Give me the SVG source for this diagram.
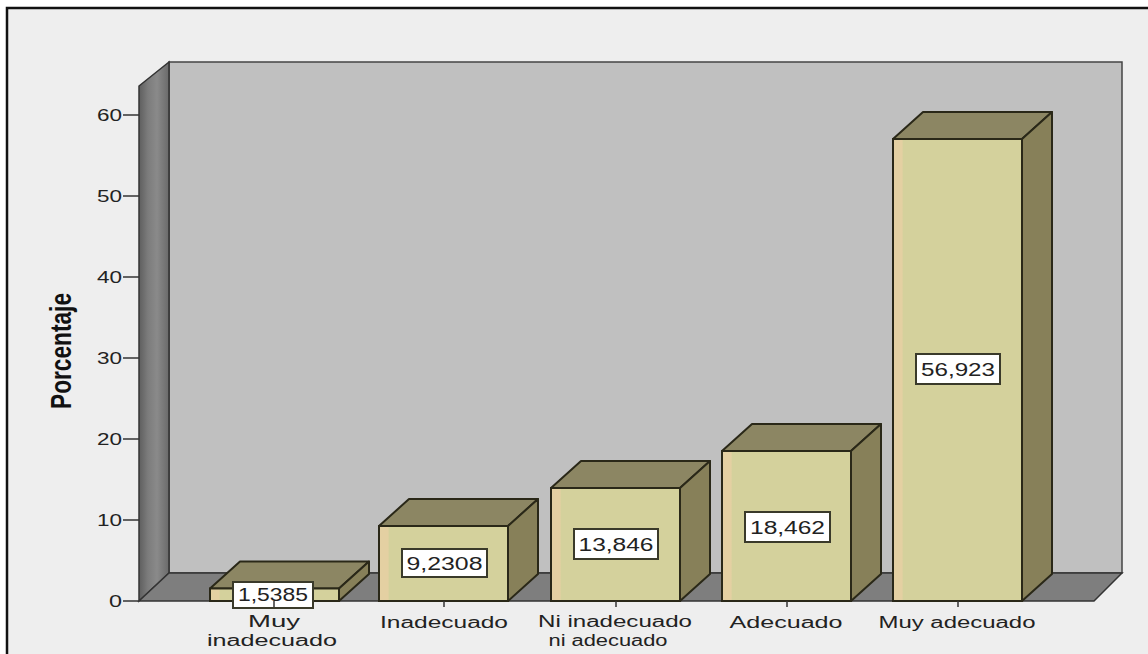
<svg xmlns="http://www.w3.org/2000/svg" width="1148" height="654" viewBox="0 0 1148 654">
<defs>
<linearGradient id="sideWall" x1="0" y1="0" x2="1" y2="0">
<stop offset="0" stop-color="#5e5e5e"/>
<stop offset="0.3" stop-color="#7c7c7c"/>
<stop offset="0.6" stop-color="#8a8a8a"/>
<stop offset="1" stop-color="#6a6a6a"/>
</linearGradient>
<linearGradient id="front" x1="0" y1="0" x2="1" y2="0">
<stop offset="0" stop-color="#e4d0a2"/>
<stop offset="0.07" stop-color="#e4d0a2"/>
<stop offset="0.08" stop-color="#d4d19c"/>
<stop offset="1" stop-color="#d4d19c"/>
</linearGradient>
<style>
.t{font-family:"Liberation Sans",Arial,sans-serif;font-size:17px;fill:#222}
.tick{stroke:#333;stroke-width:1.5}
.fr{fill:url(#front);stroke:#2a2818;stroke-width:2}
.tp{fill:#8c8663;stroke:#2a2818;stroke-width:2;stroke-linejoin:round}
.sd{fill:#878059;stroke:#2a2818;stroke-width:2;stroke-linejoin:round}
.lb{fill:#ffffff;stroke:#3a3a2a;stroke-width:2}
.v{font-family:"Liberation Sans",Arial,sans-serif;font-size:18px;fill:#222;text-anchor:middle}
.c{font-family:"Liberation Sans",Arial,sans-serif;font-size:16px;fill:#222;text-anchor:middle}
</style>
</defs>
<rect x="0" y="0" width="1148" height="654" fill="#ffffff"/>
<rect x="7" y="8" width="1160" height="660" fill="#eeeeee" stroke="#111" stroke-width="2.5"/>

<g id="chart-frame">
<rect x="169" y="62" width="953" height="511" fill="#c0c0c0" stroke="#444" stroke-width="1.5"/>
<polygon points="139,86 169,62 169,573 139,601" fill="url(#sideWall)" stroke="#333" stroke-width="1.5"/>
<polygon points="139,601 169,573 1122,573 1094,601" fill="#7e7e7e" stroke="#333" stroke-width="1.5"/>
</g>

<g id="y-axis">
<line class="tick" x1="123" y1="115" x2="139" y2="115"/>
<line class="tick" x1="123" y1="196" x2="139" y2="196"/>
<line class="tick" x1="123" y1="277" x2="139" y2="277"/>
<line class="tick" x1="123" y1="358" x2="139" y2="358"/>
<line class="tick" x1="123" y1="439" x2="139" y2="439"/>
<line class="tick" x1="123" y1="520" x2="139" y2="520"/>
<line class="tick" x1="123" y1="601" x2="139" y2="601"/>
<text class="t" x="122" y="121" text-anchor="end" textLength="25" lengthAdjust="spacingAndGlyphs">60</text>
<text class="t" x="122" y="202" text-anchor="end" textLength="25" lengthAdjust="spacingAndGlyphs">50</text>
<text class="t" x="122" y="283" text-anchor="end" textLength="25" lengthAdjust="spacingAndGlyphs">40</text>
<text class="t" x="122" y="364" text-anchor="end" textLength="25" lengthAdjust="spacingAndGlyphs">30</text>
<text class="t" x="122" y="445" text-anchor="end" textLength="25" lengthAdjust="spacingAndGlyphs">20</text>
<text class="t" x="122" y="526" text-anchor="end" textLength="25" lengthAdjust="spacingAndGlyphs">10</text>
<text class="t" x="122" y="607" text-anchor="end" textLength="13" lengthAdjust="spacingAndGlyphs">0</text>
<text x="0" y="0" transform="translate(71,351) rotate(-90)" text-anchor="middle" font-family="'Liberation Sans',Arial,sans-serif" font-size="29" font-weight="bold" fill="#111" textLength="116" lengthAdjust="spacingAndGlyphs">Porcentaje</text>
</g>

<g id="bar-muy-inadecuado">
<polygon class="tp" points="210,588.5 240,561.5 369,561.5 339,588.5"/>
<polygon class="sd" points="339,588.5 369,561.5 369,574 339,601"/>
<rect class="fr" x="210" y="588.5" width="129" height="12.5"/>
<rect class="lb" x="233" y="582" width="80" height="26"/>
<text class="v" x="273" y="601" textLength="70" lengthAdjust="spacingAndGlyphs">1,5385</text>
</g>

<g id="bar-inadecuado">
<polygon class="tp" points="379,526 409,499 538,499 508,526"/>
<polygon class="sd" points="508,526 538,499 538,574 508,601"/>
<rect class="fr" x="379" y="526" width="129" height="75"/>
<rect class="lb" x="402" y="549" width="85" height="28"/>
<text class="v" x="444.5" y="570" textLength="76" lengthAdjust="spacingAndGlyphs">9,2308</text>
</g>

<g id="bar-ni">
<polygon class="tp" points="551,488 581,461 710,461 680,488"/>
<polygon class="sd" points="680,488 710,461 710,574 680,601"/>
<rect class="fr" x="551" y="488" width="129" height="113"/>
<rect class="lb" x="574" y="529" width="84" height="30"/>
<text class="v" x="616" y="551" textLength="75" lengthAdjust="spacingAndGlyphs">13,846</text>
</g>

<g id="bar-adecuado">
<polygon class="tp" points="722,451 752,424 881,424 851,451"/>
<polygon class="sd" points="851,451 881,424 881,574 851,601"/>
<rect class="fr" x="722" y="451" width="129" height="150"/>
<rect class="lb" x="745" y="512" width="85" height="30"/>
<text class="v" x="787.5" y="534" textLength="75" lengthAdjust="spacingAndGlyphs">18,462</text>
</g>

<g id="bar-muy-adecuado">
<polygon class="tp" points="893,139 923,112 1052,112 1022,139"/>
<polygon class="sd" points="1022,139 1052,112 1052,574 1022,601"/>
<rect class="fr" x="893" y="139" width="129" height="462"/>
<rect class="lb" x="916" y="354" width="84" height="30"/>
<text class="v" x="958" y="376" textLength="74" lengthAdjust="spacingAndGlyphs">56,923</text>
</g>

<g id="x-axis">
<line class="tick" x1="274" y1="601" x2="274" y2="607"/>
<line class="tick" x1="444" y1="601" x2="444" y2="607"/>
<line class="tick" x1="616" y1="601" x2="616" y2="607"/>
<line class="tick" x1="787" y1="601" x2="787" y2="607"/>
<line class="tick" x1="958" y1="601" x2="958" y2="607"/>
<text class="c" x="274" y="627" textLength="52" lengthAdjust="spacingAndGlyphs">Muy</text>
<text class="c" x="272" y="645.5" textLength="130" lengthAdjust="spacingAndGlyphs">inadecuado</text>
<text class="c" x="444" y="628" textLength="128" lengthAdjust="spacingAndGlyphs">Inadecuado</text>
<text class="c" x="615" y="627" textLength="154" lengthAdjust="spacingAndGlyphs">Ni inadecuado</text>
<text class="c" x="608" y="645.5" textLength="119" lengthAdjust="spacingAndGlyphs">ni adecuado</text>
<text class="c" x="786" y="628" textLength="113" lengthAdjust="spacingAndGlyphs">Adecuado</text>
<text class="c" x="957" y="628" textLength="157" lengthAdjust="spacingAndGlyphs">Muy adecuado</text>
</g>
</svg>
